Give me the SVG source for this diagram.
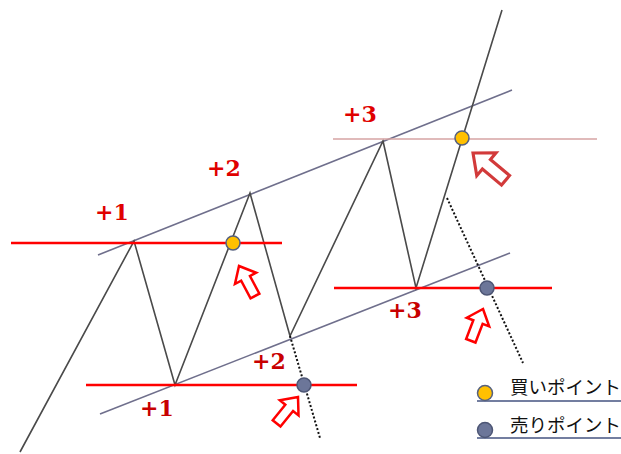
<svg xmlns="http://www.w3.org/2000/svg" width="621" height="454" viewBox="0 0 621 454">
<defs>
<style>
.chan{stroke:#6f6f8c;stroke-width:1.6;fill:none}
.zig{stroke:#4a4a4a;stroke-width:1.6;fill:none;stroke-linejoin:miter}
.red{stroke:#ff0000;stroke-width:2.5}
.dot{stroke:#111;stroke-width:2;stroke-dasharray:2 2;fill:none}
.lbl{font-family:"DejaVu Serif",serif;font-weight:bold;font-size:22px;fill:#e00000}
.lbl2{font-family:"DejaVu Serif",serif;font-weight:bold;font-size:22px;fill:#c80000}
.buy{fill:#ffc000;stroke:#55607f;stroke-width:1.5}
.sell{fill:#6c7699;stroke:#4d5675;stroke-width:1.5}
.arr{fill:#fff;stroke:#ff0000;stroke-width:2.5;stroke-linejoin:miter}
.leg{font-family:"Noto Sans CJK JP",sans-serif;font-size:18.5px;font-weight:normal;fill:#111}
</style>
<path id="arrow" d="M0,0 L12,14 L5,14 L5,34 L-5,34 L-5,14 L-12,14 Z"/>
</defs>
<rect width="621" height="454" fill="#fff"/>
<g id="connectors">
<line class="chan" x1="98" y1="255" x2="512" y2="90"/>
<line class="chan" x1="100" y1="414" x2="510" y2="253"/>
<polyline class="zig" points="20,452 134,241 175,385 250,193 290,336 383,141 416,288 502,10"/>
<line x1="333" y1="139" x2="597" y2="139" stroke="#d6a3a3" stroke-width="1.6"/>
<line class="red" x1="11" y1="243" x2="282" y2="243"/>
<line class="red" x1="86" y1="385" x2="357" y2="385"/>
<line class="red" x1="334" y1="288" x2="552" y2="288"/>
<line class="dot" x1="290" y1="336" x2="320" y2="438"/>
<line class="dot" x1="447" y1="198" x2="523" y2="363"/>
</g>
<g id="labels">
<text class="lbl" x="95" y="220">+1</text>
<text class="lbl" x="207" y="176">+2</text>
<text class="lbl" x="343" y="122">+3</text>
<text class="lbl2" x="140" y="416">+1</text>
<text class="lbl2" x="252" y="369">+2</text>
<text class="lbl2" x="388" y="318">+3</text>
</g>
<g id="points">
<circle class="buy" cx="233" cy="243" r="7"/>
<circle class="buy" cx="462" cy="138" r="7"/>
<circle class="sell" cx="304" cy="385" r="7"/>
<circle class="sell" cx="487" cy="288" r="7"/>
</g>
<g id="arrows">
<use href="#arrow" class="arr" transform="translate(239,266) rotate(-28)"/>
<use href="#arrow" class="arr" transform="translate(298,397) rotate(39)"/>
<use href="#arrow" class="arr" transform="translate(483,309) rotate(21)"/>
<use href="#arrow" class="arr" style="stroke:#d23a3a" transform="translate(473,153) rotate(-50) scale(1.25)"/>
</g>
<g id="legend">
<line x1="477" y1="401" x2="621" y2="401" stroke="#737ea0" stroke-width="2"/>
<line x1="477" y1="438" x2="621" y2="438" stroke="#737ea0" stroke-width="2"/>
<circle class="buy" cx="485" cy="393" r="7.5"/>
<circle class="sell" cx="485" cy="430" r="7.5"/>
<text class="leg" x="510" y="394">買いポイント</text>
<text class="leg" x="510" y="432">売りポイント</text>
</g>
</svg>
